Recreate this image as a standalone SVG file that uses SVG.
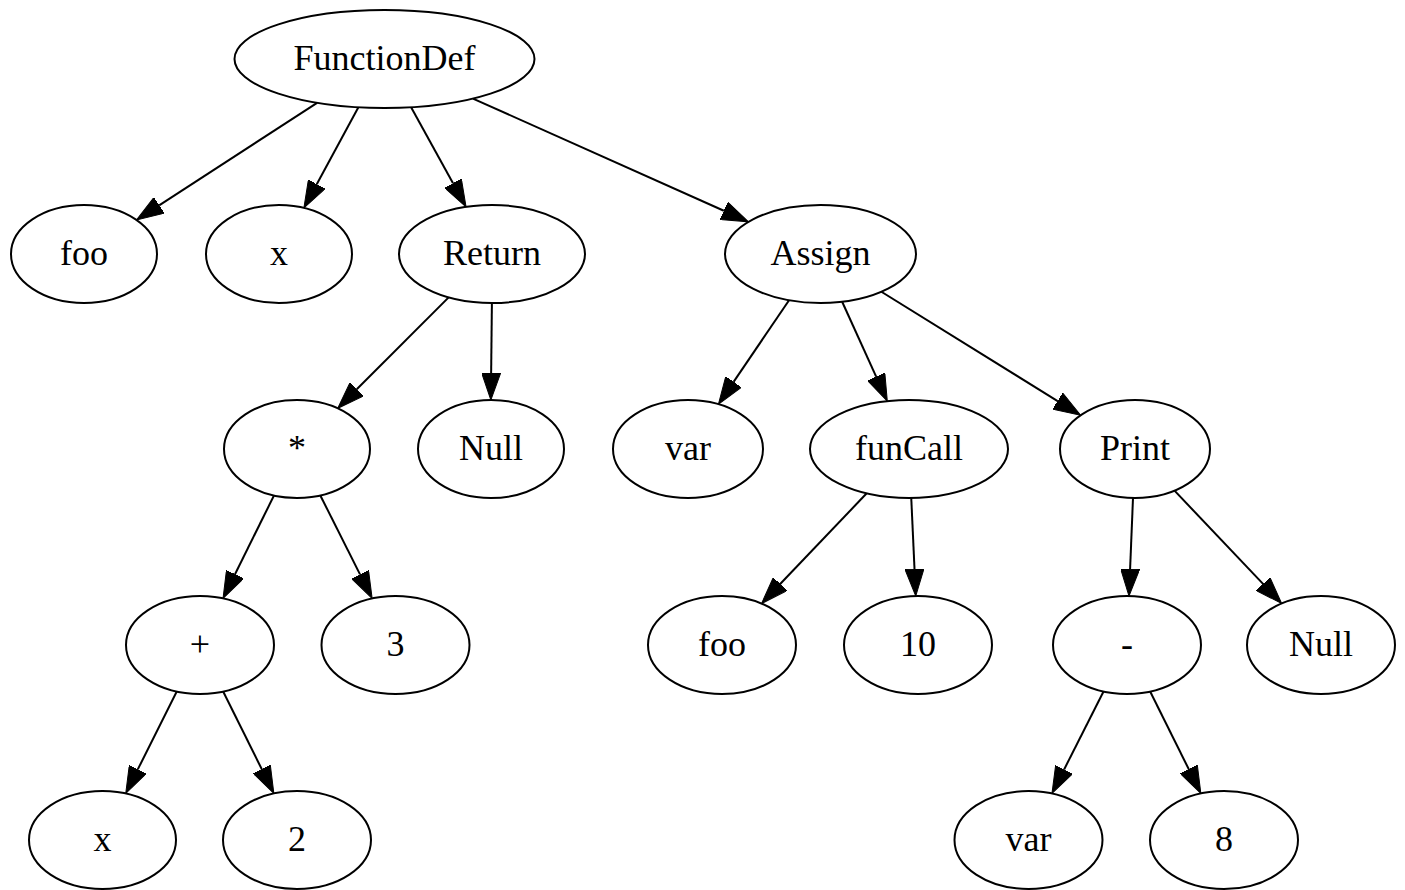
<svg xmlns="http://www.w3.org/2000/svg" width="1405" height="890" viewBox="0 0 1405 890">
<style>
.n ellipse{fill:#fff;stroke:#000;stroke-width:2}
.n text{font-family:"Liberation Serif","Times New Roman",serif;font-size:36px;text-anchor:middle;fill:#000}
.e line{stroke:#000;stroke-width:2;fill:none;marker-end:url(#ah)}
</style>
<defs>
<marker id="ah" viewBox="0 0 27 19" refX="0" refY="9.5" markerWidth="27" markerHeight="19" markerUnits="userSpaceOnUse" orient="auto">
<path d="M0,0 L27,9.5 L0,19 Z" fill="#000" stroke="#000" stroke-width="1"/>
</marker>
</defs>
<rect width="1405" height="890" fill="#fff"/>
<g id="edges" class="e">
<line x1="317.1" y1="102.8" x2="159.15" y2="205.3"/>
<line x1="358.4" y1="107.3" x2="316.75" y2="184.25"/>
<line x1="411.1" y1="107.2" x2="453.03" y2="183.31"/>
<line x1="472.96" y1="98.57" x2="723.85" y2="210.78"/>
<line x1="448.65" y1="297.35" x2="356.77" y2="389.23"/>
<line x1="491.9" y1="303" x2="491.14" y2="373"/>
<line x1="273.99" y1="495.49" x2="235.01" y2="574.24"/>
<line x1="320.33" y1="495.43" x2="360.01" y2="574.38"/>
<line x1="176.74" y1="691.52" x2="137.81" y2="769.37"/>
<line x1="223.15" y1="691.55" x2="261.82" y2="769.28"/>
<line x1="789.06" y1="300.27" x2="733.6" y2="381.88"/>
<line x1="842.16" y1="301.72" x2="876.15" y2="376.61"/>
<line x1="881.38" y1="291.75" x2="1057.64" y2="401.04"/>
<line x1="866.72" y1="493.31" x2="780.17" y2="584.04"/>
<line x1="911.25" y1="497.99" x2="914.51" y2="569.05"/>
<line x1="1133" y1="497.97" x2="1130.1" y2="569.05"/>
<line x1="1174.52" y1="490.65" x2="1263.04" y2="583.92"/>
<line x1="1103.53" y1="691.47" x2="1064.14" y2="769.43"/>
<line x1="1150.15" y1="691.55" x2="1188.82" y2="769.28"/>
</g>
<g id="n_functiondef" class="n"><ellipse cx="384.5" cy="59" rx="150" ry="49"/><text x="384.5" y="70">FunctionDef</text></g>
<g id="n_foo1" class="n"><ellipse cx="84" cy="254" rx="73" ry="49"/><text x="84" y="265">foo</text></g>
<g id="n_x1" class="n"><ellipse cx="279" cy="254" rx="73" ry="49"/><text x="279" y="265">x</text></g>
<g id="n_return" class="n"><ellipse cx="492" cy="254" rx="93" ry="49"/><text x="492" y="265">Return</text></g>
<g id="n_assign" class="n"><ellipse cx="820.5" cy="254" rx="95.5" ry="49"/><text x="820.5" y="265">Assign</text></g>
<g id="n_mul" class="n"><ellipse cx="297" cy="449" rx="73" ry="49"/><text x="297" y="460">*</text></g>
<g id="n_null1" class="n"><ellipse cx="491" cy="449" rx="73" ry="49"/><text x="491" y="460">Null</text></g>
<g id="n_var1" class="n"><ellipse cx="688" cy="449" rx="75" ry="49"/><text x="688" y="460">var</text></g>
<g id="n_funcall" class="n"><ellipse cx="909" cy="449" rx="99" ry="49"/><text x="909" y="460">funCall</text></g>
<g id="n_print" class="n"><ellipse cx="1135" cy="449" rx="75" ry="49"/><text x="1135" y="460">Print</text></g>
<g id="n_plus" class="n"><ellipse cx="200" cy="645" rx="74" ry="49"/><text x="200" y="656">+</text></g>
<g id="n_3" class="n"><ellipse cx="395.5" cy="645" rx="74" ry="49"/><text x="395.5" y="656">3</text></g>
<g id="n_foo2" class="n"><ellipse cx="722" cy="645" rx="74" ry="49"/><text x="722" y="656">foo</text></g>
<g id="n_10" class="n"><ellipse cx="918" cy="645" rx="74" ry="49"/><text x="918" y="656">10</text></g>
<g id="n_minus" class="n"><ellipse cx="1127" cy="645" rx="74" ry="49"/><text x="1127" y="656">-</text></g>
<g id="n_null2" class="n"><ellipse cx="1321" cy="645" rx="74" ry="49"/><text x="1321" y="656">Null</text></g>
<g id="n_x2" class="n"><ellipse cx="102.5" cy="840" rx="73.5" ry="49"/><text x="102.5" y="851">x</text></g>
<g id="n_2" class="n"><ellipse cx="297" cy="840" rx="74" ry="49"/><text x="297" y="851">2</text></g>
<g id="n_var2" class="n"><ellipse cx="1028.5" cy="840" rx="74" ry="49"/><text x="1028.5" y="851">var</text></g>
<g id="n_8" class="n"><ellipse cx="1224" cy="840" rx="74" ry="49"/><text x="1224" y="851">8</text></g>
</svg>
